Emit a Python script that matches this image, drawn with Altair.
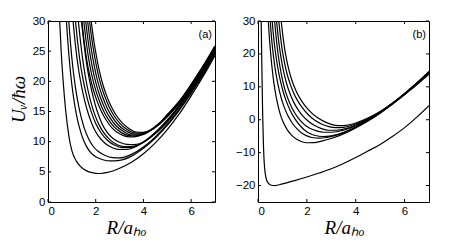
import altair as alt
import pandas as pd

# ---------------- Panel (a) curves: R / a_ho and U / hbar-omega ----------------
a1_R = [0.49, 0.55, 0.63, 0.74, 0.88, 1.0, 1.2, 1.4, 1.6, 1.8, 2.0, 2.2, 2.5, 3.0, 3.5, 4.0, 4.5, 5.0, 5.5, 6.0, 6.5, 7.0]
a1_U = [30, 25.2, 20.3, 15.2, 10.8, 8.5, 6.7, 5.75, 5.2, 4.9, 4.75, 4.72, 4.9, 5.6, 6.6, 8.0, 9.8, 12.0, 14.6, 17.6, 20.8, 24.3]
a2_R = [0.77, 0.85, 0.95, 1.05, 1.2, 1.4, 1.6, 1.8, 2.0, 2.3, 2.6, 3.0, 3.5, 4.0, 4.5, 5.0, 5.5, 6.0, 6.5, 7.0]
a2_U = [30, 25.6, 21.2, 17.9, 14.3, 11.2, 9.3, 8.15, 7.5, 7.0, 6.8, 6.9, 7.6, 8.9, 10.6, 12.7, 15.2, 18.0, 21.1, 24.6]
a3_R = [0.87, 0.95, 1.05, 1.15, 1.3, 1.5, 1.7, 1.9, 2.1, 2.4, 2.7, 3.0, 3.5, 4.0, 4.5, 5.0, 5.5, 6.0, 6.5, 7.0]
a3_U = [30, 26.0, 22.0, 19.0, 15.6, 12.5, 10.5, 9.2, 8.4, 7.7, 7.35, 7.3, 7.9, 9.1, 10.8, 12.9, 15.4, 18.2, 21.3, 24.8]
a4_R = [1.05, 1.15, 1.28, 1.4, 1.55, 1.7, 1.9, 2.1, 2.4, 2.7, 3.0, 3.3, 3.7, 4.0, 4.5, 5.0, 5.5, 6.0, 6.5, 7.0]
a4_U = [30, 26.0, 22.0, 19.3, 16.6, 14.5, 12.4, 11.0, 9.7, 9.0, 8.7, 8.7, 9.2, 9.9, 11.5, 13.5, 15.8, 18.5, 21.5, 24.8]
a5_R = [1.15, 1.25, 1.38, 1.5, 1.65, 1.8, 2.0, 2.2, 2.5, 2.8, 3.1, 3.4, 3.8, 4.2, 4.6, 5.0, 5.5, 6.0, 6.5, 7.0]
a5_U = [30, 26.2, 22.3, 19.7, 17.1, 15.1, 13.0, 11.6, 10.2, 9.4, 9.0, 9.0, 9.5, 10.5, 11.9, 13.6, 15.9, 18.6, 21.6, 24.9]
a6_R = [1.27, 1.37, 1.5, 1.62, 1.78, 1.95, 2.15, 2.35, 2.6, 2.9, 3.2, 3.5, 3.9, 4.3, 4.7, 5.1, 5.5, 6.0, 6.5, 7.0]
a6_U = [30, 26.3, 22.4, 19.6, 16.8, 14.6, 12.7, 11.4, 10.3, 9.5, 9.2, 9.2, 9.7, 10.8, 12.2, 13.9, 16.0, 18.7, 21.7, 25.0]
a7_R = [1.4, 1.5, 1.62, 1.75, 1.9, 2.05, 2.25, 2.45, 2.7, 3.0, 3.3, 3.6, 4.0, 4.4, 4.8, 5.2, 5.6, 6.0, 6.5, 7.0]
a7_U = [30, 26.5, 22.9, 20.0, 17.3, 15.2, 13.1, 11.7, 10.6, 9.9, 9.55, 9.5, 9.9, 11.0, 12.4, 14.2, 16.3, 18.8, 21.8, 25.1]
a8_R = [1.42, 1.52, 1.64, 1.77, 1.9, 2.05, 2.25, 2.45, 2.7, 3.0, 3.3, 3.6, 4.0, 4.5, 5.0, 5.5, 6.0, 6.5, 7.0]
a8_U = [30, 26.5, 23.2, 20.6, 18.6, 16.8, 14.9, 13.5, 12.2, 11.3, 10.85, 10.8, 11.2, 12.4, 14.1, 16.3, 19.0, 22.0, 25.3]
a9_R = [1.5, 1.6, 1.72, 1.85, 1.98, 2.13, 2.33, 2.53, 2.78, 3.08, 3.38, 3.68, 4.05, 4.5, 5.0, 5.5, 6.0, 6.5, 7.0]
a9_U = [30, 26.6, 23.4, 20.8, 18.8, 17.0, 15.1, 13.7, 12.4, 11.5, 11.0, 10.95, 11.35, 12.5, 14.2, 16.4, 19.1, 22.1, 25.4]
a10_R = [1.58, 1.68, 1.8, 1.93, 2.06, 2.21, 2.41, 2.61, 2.86, 3.16, 3.46, 3.76, 4.1, 4.55, 5.0, 5.5, 6.0, 6.5, 7.0]
a10_U = [30, 26.7, 23.6, 21.0, 19.0, 17.2, 15.3, 13.9, 12.6, 11.7, 11.15, 11.1, 11.5, 12.65, 14.3, 16.5, 19.2, 22.2, 25.5]
a11_R = [1.66, 1.76, 1.88, 2.01, 2.14, 2.29, 2.49, 2.69, 2.94, 3.24, 3.54, 3.84, 4.15, 4.6, 5.0, 5.5, 6.0, 6.5, 7.0]
a11_U = [30, 26.8, 23.8, 21.2, 19.2, 17.4, 15.5, 14.1, 12.8, 11.85, 11.3, 11.25, 11.6, 12.8, 14.4, 16.6, 19.35, 22.35, 25.65]
a12_R = [1.74, 1.84, 1.96, 2.09, 2.22, 2.37, 2.57, 2.77, 3.02, 3.32, 3.62, 3.92, 4.2, 4.65, 5.0, 5.5, 6.0, 6.5, 7.0]
a12_U = [30, 26.9, 24.0, 21.4, 19.4, 17.6, 15.7, 14.3, 13.0, 12.0, 11.45, 11.4, 11.7, 12.95, 14.5, 16.7, 19.5, 22.5, 25.8]
a13_R = [1.81, 1.91, 2.03, 2.16, 2.29, 2.44, 2.64, 2.84, 3.09, 3.39, 3.69, 3.99, 4.25, 4.7, 5.2, 5.7, 6.2, 6.6, 7.0]
a13_U = [30, 27.0, 24.2, 21.6, 19.6, 17.8, 15.9, 14.5, 13.2, 12.2, 11.6, 11.55, 11.8, 12.95, 15.1, 17.6, 20.7, 23.2, 25.9]

# ---------------- Panel (b) curves ----------------
b1_R = [0.13, 0.16, 0.19, 0.22, 0.25, 0.29, 0.35, 0.45, 0.55, 0.7, 1.0, 1.5, 2.0, 2.5, 3.0, 3.5, 4.0, 4.5, 5.0, 5.5, 6.0, 6.5, 7.0]
b1_U = [30, 15, 2, -7, -12.5, -16, -18.3, -19.5, -19.9, -20.0, -19.5, -18.5, -17.4, -16.2, -14.9, -13.3, -11.5, -9.5, -7.5, -5.1, -2.4, 0.8, 4.3]
b2_R = [0.42, 0.47, 0.52, 0.58, 0.65, 0.75, 0.85, 0.95, 1.05, 1.2, 1.4, 1.6, 1.8, 2.0, 2.3, 2.6, 3.0, 3.5, 4.0, 4.5, 5.0, 5.5, 6.0, 6.5, 7.0]
b2_U = [30, 24.5, 20, 15.5, 11.2, 6.7, 3.3, 0.8, -1.0, -3.1, -4.9, -6.0, -6.7, -7.0, -6.95, -6.5, -5.7, -4.3, -2.5, -0.4, 2.0, 4.7, 7.6, 10.6, 13.8]
b3_R = [0.5, 0.55, 0.6, 0.67, 0.75, 0.85, 0.95, 1.05, 1.2, 1.4, 1.6, 1.8, 2.0, 2.2, 2.5, 2.8, 3.2, 3.6, 4.0, 4.5, 5.0, 5.5, 6.0, 6.5, 7.0]
b3_U = [30, 25.2, 21.4, 17.2, 13.3, 9.6, 6.6, 4.3, 1.6, -1.0, -2.8, -4.1, -4.9, -5.4, -5.6, -5.4, -4.7, -3.6, -2.2, -0.2, 2.2, 4.9, 7.8, 10.9, 14.1]
b4_R = [0.58, 0.63, 0.68, 0.75, 0.83, 0.92, 1.02, 1.15, 1.3, 1.5, 1.7, 1.9, 2.1, 2.35, 2.65, 3.0, 3.5, 4.0, 4.5, 5.0, 5.5, 6.0, 6.5, 7.0]
b4_U = [30, 25.8, 22.4, 18.6, 15.0, 11.7, 8.8, 5.8, 3.1, 0.4, -1.6, -3.1, -4.1, -4.8, -5.1, -4.9, -3.9, -2.3, -0.3, 2.1, 4.8, 7.8, 11.0, 14.3]
b5_R = [0.68, 0.73, 0.8, 0.88, 0.96, 1.05, 1.15, 1.3, 1.5, 1.7, 1.9, 2.1, 2.4, 2.7, 3.0, 3.5, 4.0, 4.5, 5.0, 5.5, 6.0, 6.5, 7.0]
b5_U = [30, 26.0, 21.2, 17.0, 13.6, 10.6, 8.0, 5.0, 2.1, 0.0, -1.5, -2.5, -3.4, -3.8, -3.8, -3.2, -1.9, -0.1, 2.2, 4.9, 7.9, 11.1, 14.4]
b6_R = [0.76, 0.82, 0.9, 0.98, 1.07, 1.17, 1.3, 1.45, 1.65, 1.85, 2.05, 2.3, 2.6, 2.9, 3.2, 3.6, 4.0, 4.5, 5.0, 5.5, 6.0, 6.5, 7.0]
b6_U = [30, 25.6, 20.9, 17.2, 13.9, 11.0, 8.1, 5.5, 2.9, 1.0, -0.4, -1.7, -2.7, -3.2, -3.2, -2.7, -1.6, 0.1, 2.3, 5.0, 8.0, 11.2, 14.5]
b7_R = [0.85, 0.91, 0.99, 1.08, 1.18, 1.3, 1.45, 1.62, 1.82, 2.05, 2.3, 2.6, 2.9, 3.2, 3.5, 4.0, 4.5, 5.0, 5.5, 6.0, 6.5, 7.0]
b7_U = [30, 25.9, 21.3, 17.5, 14.2, 11.2, 8.3, 5.8, 3.6, 1.6, 0.0, -1.3, -2.1, -2.4, -2.3, -1.3, 0.3, 2.4, 4.9, 7.8, 11.1, 14.6]
b8_R = [0.95, 1.01, 1.09, 1.18, 1.28, 1.4, 1.55, 1.72, 1.92, 2.15, 2.4, 2.7, 3.0, 3.3, 3.6, 4.0, 4.5, 5.0, 5.5, 6.0, 6.5, 7.0]
b8_U = [30, 26.0, 21.6, 17.9, 14.7, 11.7, 8.9, 6.5, 4.3, 2.4, 0.8, -0.5, -1.4, -1.8, -1.7, -1.0, 0.5, 2.5, 5.0, 7.8, 11.0, 14.7]

# ---------------- Axes ----------------
x_ticks = [0, 2, 4, 6]
ya_ticks = [0, 5, 10, 15, 20, 25, 30]
yb_ticks = [-20, -10, 0, 10, 20, 30]
ya_domain = [0, 30]
yb_domain = [-25, 30]
x_domain = [0, 7]

curves_a = [("a1", a1_R, a1_U), ("a2", a2_R, a2_U), ("a3", a3_R, a3_U), ("a4", a4_R, a4_U),
            ("a5", a5_R, a5_U), ("a6", a6_R, a6_U), ("a7", a7_R, a7_U), ("a8", a8_R, a8_U),
            ("a9", a9_R, a9_U), ("a10", a10_R, a10_U), ("a11", a11_R, a11_U), ("a12", a12_R, a12_U),
            ("a13", a13_R, a13_U)]
curves_b = [("b1", b1_R, b1_U), ("b2", b2_R, b2_U), ("b3", b3_R, b3_U), ("b4", b4_R, b4_U),
            ("b5", b5_R, b5_U), ("b6", b6_R, b6_U), ("b7", b7_R, b7_U), ("b8", b8_R, b8_U)]


def curves_df(curves):
    rows = []
    for name, rs, us in curves:
        for i, (r, u) in enumerate(zip(rs, us)):
            rows.append({"curve": name, "i": i, "R": r, "U": u})
    return pd.DataFrame(rows)


H = 181
TICK = 3
X_TITLE = "R/aₕₒ"
Y_TITLE = "Uᵥ/ħω"


def panel(df, w, ydom, yvals, ytitle, tag, xtitle_x):
    xs = alt.Scale(domain=x_domain, nice=False, zero=False)
    ys = alt.Scale(domain=ydom, nice=False, zero=False)
    xaxis = alt.Axis(values=x_ticks, title=X_TITLE, format="d",
                     titleX=xtitle_x, titleY=31, titleBaseline="alphabetic")
    if ytitle:
        yaxis = alt.Axis(values=yvals, title=ytitle, format="d",
                         titleX=-24, titleY=78, titleBaseline="alphabetic", titleAlign="center")
    else:
        yaxis = alt.Axis(values=yvals, title=None, format="d")
    X = alt.X("R:Q", scale=xs, axis=xaxis)
    Y = alt.Y("U:Q", scale=ys, axis=yaxis)

    lines = alt.Chart(df).mark_line(
        color="black", strokeWidth=1.2, interpolate="monotone", clip=True
    ).encode(x=X, y=Y, detail="curve:N", order="i:Q")

    xt = pd.DataFrame({"R": x_ticks})
    yt = pd.DataFrame({"U": yvals})
    tb = alt.Chart(xt).mark_rule(color="black", strokeWidth=1).encode(
        x=X, y=alt.value(H), y2=alt.value(H - TICK))
    tt = alt.Chart(xt).mark_rule(color="black", strokeWidth=1).encode(
        x=X, y=alt.value(0), y2=alt.value(TICK))
    tl = alt.Chart(yt).mark_rule(color="black", strokeWidth=1).encode(
        y=Y, x=alt.value(0), x2=alt.value(TICK))
    tr = alt.Chart(yt).mark_rule(color="black", strokeWidth=1).encode(
        y=Y, x=alt.value(w - TICK), x2=alt.value(w))

    label = alt.Chart(pd.DataFrame({"t": [tag]})).mark_text(
        font="Liberation Sans", fontSize=11, color="black", align="right", baseline="alphabetic"
    ).encode(text="t:N", x=alt.value(w - 3), y=alt.value(17))

    return alt.layer(lines, tb, tt, tl, tr, label).properties(width=w, height=H)


left = panel(curves_df(curves_a), 167, ya_domain, ya_ticks, Y_TITLE, "(a)", 78)
right = panel(curves_df(curves_b), 171, yb_domain, yb_ticks, None, "(b)", 86)

chart = alt.hconcat(left, right, spacing=18).properties(
    padding={"left": 0, "top": 6, "right": 5, "bottom": 2}
).configure_view(
    stroke="black", strokeWidth=1
).configure_axis(
    labelFont="Liberation Sans", labelFontSize=11.5, labelColor="black",
    titleFont="Liberation Serif", titleFontSize=19, titleFontStyle="italic",
    titleFontWeight="normal", titleColor="black",
    ticks=False, domain=False, grid=False, labelPadding=3
)

chart.save("out.html", embed_options={"renderer": "svg", "actions": False})
